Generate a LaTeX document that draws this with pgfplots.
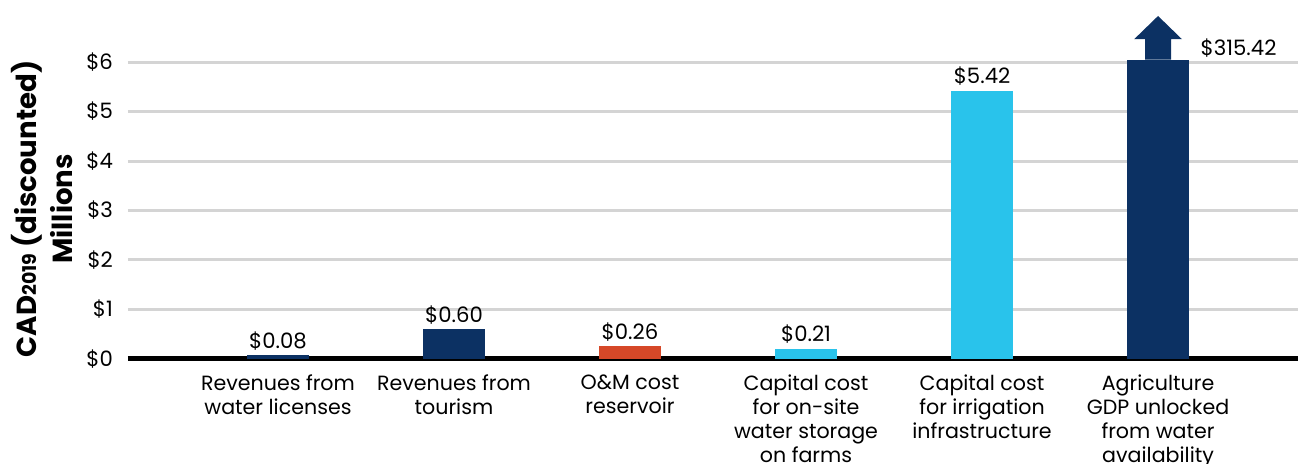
\documentclass[border=0pt]{standalone}
\usepackage{pgfplots}
\pgfplotsset{compat=1.18}
\usepackage{fontspec}
\setmainfont{Poppins}
\definecolor{navy}{RGB}{12,49,99}
\definecolor{redc}{RGB}{214,72,40}
\definecolor{lblue}{RGB}{41,195,235}
\definecolor{gridc}{RGB}{212,212,212}
\begin{document}
\begin{tikzpicture}
\begin{axis}[
  scale only axis, width=585pt, height=179.5pt,
  xmin=-0.852, xmax=5.795, ymin=0, ymax=7.253,
  axis line style={draw=none},
  major tick length=0pt,
  ytick={1,2,3,4,5,6},
  yticklabels={\$1,\$2,\$3,\$4,\$5,\$6},
  extra y ticks={0},
  extra y tick labels={\$0},
  extra y tick style={grid style={black, line width=2.5pt}},
  ymajorgrids,
  grid style={gridc, line width=1.5pt},
  yticklabel style={font=\fontsize{10.6}{12}\selectfont, anchor=east, xshift=-4pt},
  xtick={0,1,2,3,4,5},
  xticklabels={{Revenues from\\water licenses},{Revenues from\\tourism},{O\&M cost\\reservoir},{Capital cost\\for on-site\\water storage\\on farms},{Capital cost\\for irrigation\\infrastructure},{Agriculture\\GDP unlocked\\from water\\availability}},
  xticklabel style={font=\fontsize{10.3}{12}\selectfont, align=center, anchor=north, yshift=-4.5pt},
  ybar, bar width=31pt, bar shift=0pt,
  nodes near coords, point meta=explicit symbolic,
  every node near coord/.append style={font=\fontsize{10.6}{12}\selectfont, anchor=south, black, yshift=-1pt},
  clip=false,
]
\addplot[fill=navy, draw=none] coordinates {(0,0.08) [\$0.08]};
\addplot[fill=navy, draw=none] coordinates {(1,0.60) [\$0.60]};
\addplot[fill=redc, draw=none] coordinates {(2,0.26) [\$0.26]};
\addplot[fill=lblue, draw=none] coordinates {(3,0.21) [\$0.21]};
\addplot[fill=lblue, draw=none] coordinates {(4,5.42) [\$5.42]};
\addplot[fill=navy, draw=none] coordinates {(5,6.05) []};
\fill[navy] (axis cs:4.926,6.05) -- (axis cs:4.926,6.46) -- (axis cs:4.864,6.46) -- (axis cs:5,6.93) -- (axis cs:5.136,6.46) -- (axis cs:5.074,6.46) -- (axis cs:5.074,6.05) -- cycle;
\node[anchor=west, font=\fontsize{10.6}{12}\selectfont, inner sep=0pt] at (axis cs:5.24,6.28) {\$315.42};
\end{axis}
\node[rotate=90, align=center, font=\bfseries\fontsize{13.8}{18}\selectfont] at (-43pt,75pt) {CAD{\fontsize{9.5}{9.5}\selectfont 2019} (discounted)\\Millions};
\pgfresetboundingbox
\path (-64pt,-52.5pt) rectangle (585pt,179.5pt);
\end{tikzpicture}
\end{document}
